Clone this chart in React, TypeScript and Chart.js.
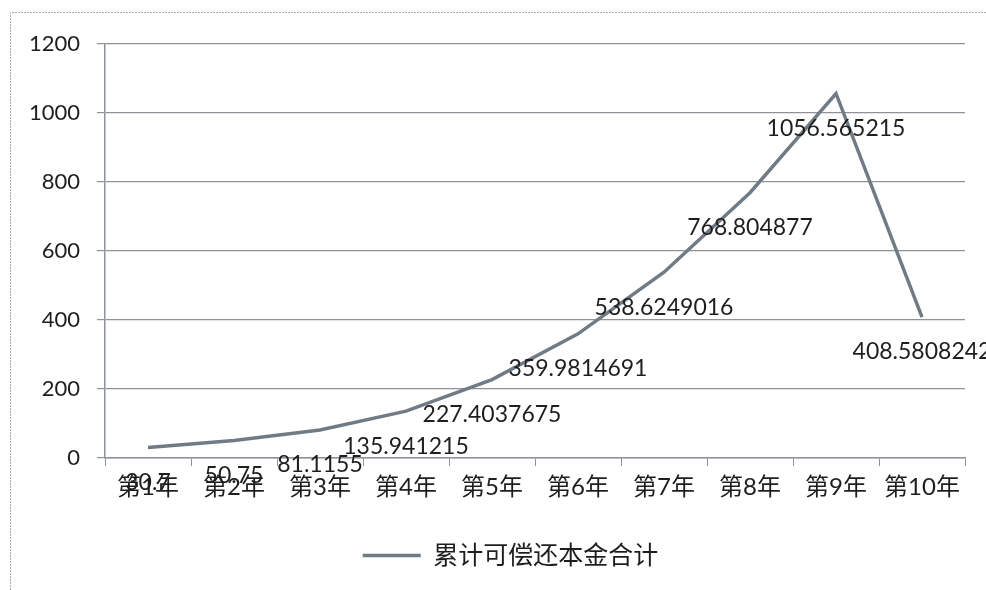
import React, { useEffect, useRef } from "react";
import { Chart, registerables } from "chart.js";

Chart.register(...registerables);

const categories = ["第1年", "第2年", "第3年", "第4年", "第5年", "第6年", "第7年", "第8年", "第9年", "第10年"];
const seriesName = "累计可偿还本金合计";
const seriesValues = [30.7, 50.75, 81.1155, 135.941215, 227.4037675, 359.9814691, 538.6249016, 768.804877, 1056.565215, 408.5808242];
const seriesLabels = ["30.7", "50.75", "81.1155", "135.941215", "227.4037675", "359.9814691", "538.6249016", "768.804877", "1056.565215", "408.5808242"];
const yTicks = [0, 200, 400, 600, 800, 1000, 1200];

const FONT = "Lato, 'Noto Sans CJK SC', sans-serif";

const dataLabelPlugin = {
  id: "dataLabels",
  afterDatasetsDraw(chart: any) {
    const ctx = chart.ctx;
    const meta = chart.getDatasetMeta(0);
    ctx.save();
    ctx.font = `23px ${FONT}`;
    ctx.fillStyle = "#1e1e1e";
    ctx.textAlign = "center";
    ctx.textBaseline = "middle";
    meta.data.forEach((pt: any, i: number) => {
      ctx.fillText(seriesLabels[i], pt.x, pt.y + 35);
    });
    ctx.restore();
  },
};

const framePlugin = {
  id: "frame",
  afterLayout(chart: any) {
    if (chart.legend) chart.legend.left += 56;
  },
  beforeDraw(chart: any) {
    const ctx = chart.ctx;
    ctx.save();
    ctx.strokeStyle = "#a9adb3";
    ctx.lineWidth = 1;
    ctx.setLineDash([2, 1]);
    ctx.beginPath();
    ctx.moveTo(10.5, chart.height);
    ctx.lineTo(10.5, 12.5);
    ctx.lineTo(chart.width, 12.5);
    ctx.stroke();
    ctx.restore();
  },
};

export default function App() {
  const ref = useRef<HTMLCanvasElement | null>(null);
  useEffect(() => {
    document.body.style.margin = "0";
    const canvas = ref.current!;
    const chart = new Chart(canvas, {
      type: "line",
      data: {
        labels: categories,
        datasets: [
          {
            label: seriesName,
            data: seriesValues,
            borderColor: "#717b86",
            backgroundColor: "#717b86",
            borderWidth: 3.5,
            pointRadius: 0,
            tension: 0,
            fill: false,
          },
        ],
      },
      options: {
        responsive: false,
        animation: false,
        layout: { padding: { top: 44, right: 21, bottom: 12, left: 0 } },
        plugins: {
          legend: {
            position: "bottom",
            labels: {
              usePointStyle: true,
              pointStyle: "line",
              pointStyleWidth: 58,
              boxWidth: 40,
              boxHeight: 25,
              padding: 10,
              color: "#1e1e1e",
              font: { family: FONT, size: 25 },
            },
          },
          tooltip: { enabled: false },
        },
        scales: {
          x: {
            offset: true,
            grid: {
              offset: true,
              drawOnChartArea: false,
              drawTicks: true,
              tickLength: 8,
              color: "#8e9399",
            },
            border: { display: true, color: "#8e9399", width: 1.5 },
            ticks: {
              color: "#1e1e1e",
              padding: 7,
              maxRotation: 0,
              autoSkip: false,
              font: { family: FONT, size: 24 },
            },
            afterFit(scale: any) {
              scale.height = 75;
            },
          },
          y: {
            min: 0,
            max: 1200,
            afterBuildTicks(scale: any) {
              scale.ticks = yTicks.map((v) => ({ value: v }));
            },
            grid: {
              color: "#8e9399",
              lineWidth: 1.2,
              tickLength: 8,
            },
            border: { display: true, color: "#8e9399", width: 1.5 },
            ticks: {
              color: "#1e1e1e",
              padding: 17,
              font: { family: FONT, size: 22 },
              callback: (v: any) => String(v),
            },
            afterFit(scale: any) {
              scale.width = 105;
            },
          },
        },
      },
      plugins: [framePlugin, dataLabelPlugin],
    });
    return () => chart.destroy();
  }, []);
  return (
    <div style={{ width: 986, height: 590 }}>
      <canvas ref={ref} width={986} height={590} style={{ display: "block" }} />
    </div>
  );
}
